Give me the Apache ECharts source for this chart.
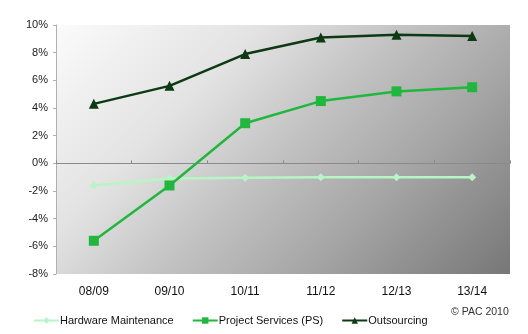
<!DOCTYPE html>
<html><head><meta charset="utf-8">
<script src="https://cdn.jsdelivr.net/npm/echarts@6/dist/echarts.min.js"></script>
<style>html,body{margin:0;padding:0;background:#fff}#c{width:528px;height:334px}</style>
</head><body><div id="c"></div>
<script>
var categories = ['08/09','09/10','10/11','11/12','12/13','13/14'];
var hardwareMaintenance = [-1.6, -1.1, -1.05, -1.0, -1.0, -1.0];
var projectServices = [-5.6, -1.6, 2.9, 4.5, 5.2, 5.5];
var outsourcing = [4.3, 5.6, 7.9, 9.1, 9.3, 9.2];
var yTicks = {min: -8, max: 10, interval: 2};

var font = 'Liberation Sans, Arial, sans-serif';
var chart = echarts.init(document.getElementById('c'), null, {renderer: 'canvas'});
chart.setOption({
  animation: false,
  textStyle: {fontFamily: font},
  grid: {left: 56, right: 18, top: 25, bottom: 60, show: true, borderWidth: 0,
    backgroundColor: {type: 'linear', global: true, x: 56, y: 25, x2: 407.5, y2: 376.5, colorStops: [
      {offset: 0, color: '#fbfbfb'}, {offset: 0.3, color: '#e2e2e2'}, {offset: 0.5, color: '#c2c2c2'},
      {offset: 0.7, color: '#a6a6a6'}, {offset: 1, color: '#777777'}]}},
  xAxis: {type: 'category', data: categories, boundaryGap: true,
    axisLine: {onZero: true, lineStyle: {color: '#8a8a8a', width: 1}},
    axisTick: {show: true, inside: true, length: 3, lineStyle: {color: '#8a8a8a'}},
    axisLabel: {show: true, color: '#111', fontSize: 12, fontFamily: font, margin: 12}},
  yAxis: {type: 'value', min: yTicks.min, max: yTicks.max, interval: yTicks.interval,
    axisLine: {show: true, lineStyle: {color: '#b0b0b0'}},
    axisTick: {show: true, length: 3, lineStyle: {color: '#b0b0b0'}},
    splitLine: {show: false},
    axisLabel: {formatter: '{value}%', color: '#222', fontSize: 11, fontFamily: font, margin: 8}},
  legend: {left: 28, top: 310, itemWidth: 25, itemHeight: 8, itemGap: 18,
    textStyle: {color: '#111', fontSize: 11, fontFamily: font, padding: [0,0,0,-4]},
    data: ['Hardware Maintenance', 'Project Services (PS)', 'Outsourcing']},
  graphic: [
    {type: 'text', left: 451, top: 307, style: {text: '© PAC 2010', fill: '#333', font: '10.5px ' + font}}
  ],
  series: [
    {name: 'Hardware Maintenance', type: 'line', data: hardwareMaintenance, symbol: 'diamond', symbolSize: 8,
      lineStyle: {color: '#b8f5c4', width: 2.5}, itemStyle: {color: '#b8f5c4'}},
    {name: 'Project Services (PS)', type: 'line', data: projectServices, symbol: 'rect', symbolSize: 10,
      lineStyle: {color: '#1fb83c', width: 2.5}, itemStyle: {color: '#1fb83c'}},
    {name: 'Outsourcing', type: 'line', data: outsourcing, symbol: 'triangle', symbolSize: 10,
      lineStyle: {color: '#0c3a12', width: 2.5}, itemStyle: {color: '#0c3a12'}}
  ]
});
</script></body></html>
